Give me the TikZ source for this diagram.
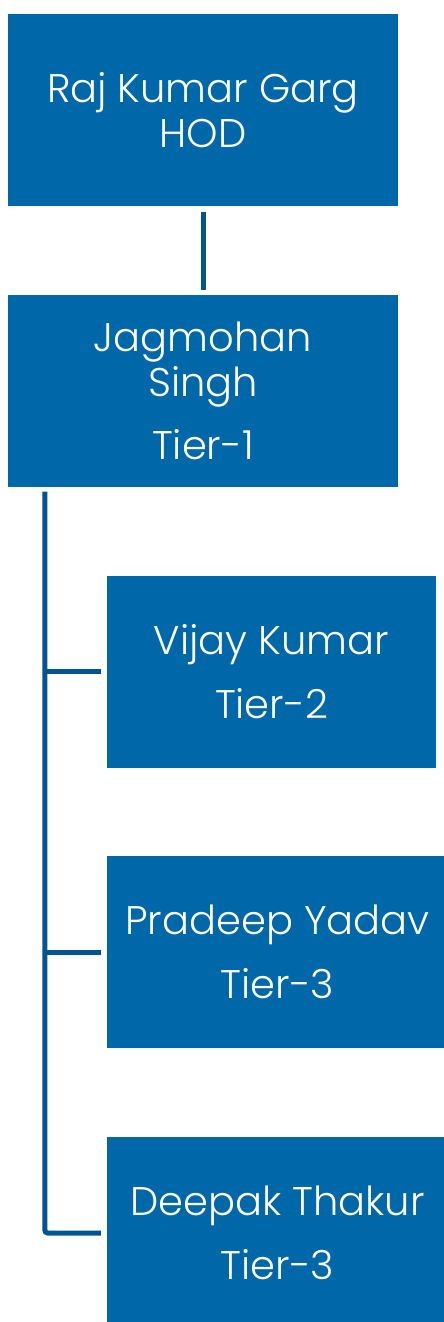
\documentclass[tikz,border=0pt]{standalone}
\usepackage{fontspec}
\setmainfont{Poppins}[UprightFont=* Light]
\usetikzlibrary{positioning}
\definecolor{boxblue}{HTML}{0067A9}
\definecolor{lineblue}{HTML}{00548F}
\tikzset{
  member/.style={fill=boxblue, text=white, minimum height=192pt, inner sep=0pt,
    align=center, font=\fontsize{40}{45}\selectfont},
  link/.style={draw=lineblue, line width=5pt}
}
\begin{document}
\begin{tikzpicture}[x=1pt, y=-1pt]
  \useasboundingbox (0,0) rectangle (444,1322);

  % Head and tier 1
  \node[member, minimum width=390pt] (hod) at (203,110) {Raj Kumar Garg\\HOD};
  \node[member, minimum width=390pt] (jagmohan) at (203,390.5) {Jagmohan\\Singh\\[18pt]Tier-1};
  \draw[link] ([yshift=-6pt]hod.south) -- ([yshift=4pt]jagmohan.north);

  % Tier 2 and tier 3
  \node[member, minimum width=329pt] (vijay) at (271.5,671.5) {Vijay Kumar\\[19pt]Tier-2};
  \node[member, minimum width=341pt] (pradeep) at (277.5,952) {Pradeep Yadav\\[19pt]Tier-3};
  \node[member, minimum width=341pt] (deepak) at (277.5,1233) {Deepak Thakur\\[19pt]Tier-3};

  % Spine with branches
  \coordinate (spine) at ([xshift=37pt, yshift=-5pt]jagmohan.south west);
  \draw[link, rounded corners=3pt] (spine) |- ([xshift=-6pt]deepak.west);
  \foreach \n in {vijay, pradeep}
    \draw[link] (spine |- \n.west) -- ([xshift=-6pt]\n.west);
\end{tikzpicture}
\end{document}
